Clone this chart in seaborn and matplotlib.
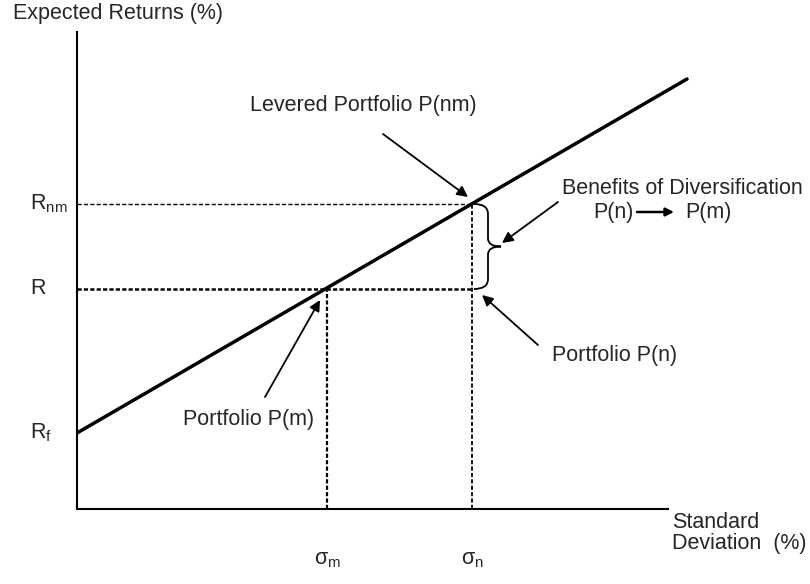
"""Capital market line diagram: levered portfolio vs diversified portfolio."""

import numpy as np
import matplotlib
matplotlib.use("Agg")
import matplotlib.pyplot as plt
from matplotlib.path import Path
from matplotlib.patches import PathPatch
import seaborn as sns

sns.set_theme(style="white")
plt.rcParams["font.family"] = ["Liberation Sans", "DejaVu Sans"]
plt.rcParams["mathtext.fontset"] = "custom"
plt.rcParams["mathtext.rm"] = "Liberation Sans"
plt.rcParams["mathtext.it"] = "Liberation Sans:italic"
plt.rcParams["lines.scale_dashes"] = False

# ---------------------------------------------------------------------------
# Data (arbitrary diagram units)
# ---------------------------------------------------------------------------
cml_x = [0, 610]          # standard deviation along the capital market line
cml_y = [76, 430]         # expected return along the capital market line

sigma_m = 250             # std dev of portfolio P(m)
sigma_n = 395             # std dev of portfolio P(n)
r_f = 76                  # risk free rate
r_m = 220                 # expected return R
r_nm = 305                # expected return of levered portfolio R_nm

y_ticks = [r_nm, r_m, r_f]
y_tick_labels = ["R$_{\\mathrm{nm}}$", "R", "R$_{\\mathrm{f}}$"]
x_ticks = [sigma_m, sigma_n]
x_tick_labels = ["σ$_{\\mathrm{m}}$", "σ$_{\\mathrm{n}}$"]

FS = 15.5
DASH = (0, (3.0, 1.6))

# ---------------------------------------------------------------------------
# Figure
# ---------------------------------------------------------------------------
fig = plt.figure(figsize=(8.1, 5.84), dpi=100)
ax = fig.add_axes([77 / 810, 75 / 584, 733 / 810, 509 / 584])
ax.set_xlim(0, 733)
ax.set_ylim(0, 509)
ax.set_xticks([])
ax.set_yticks([])
for side in ["top", "right"]:
    ax.spines[side].set_visible(False)
for side in ["left", "bottom"]:
    ax.spines[side].set_linewidth(1.5)
    ax.spines[side].set_color("black")
ax.spines["left"].set_bounds(0, 477)
ax.spines["bottom"].set_bounds(0, 591)

# capital market line
sns.lineplot(x=cml_x, y=cml_y, color="black", lw=2.5, ax=ax)

# guide lines
ax.plot([0, sigma_n], [r_nm, r_nm], color="black", lw=1.0, linestyle=DASH)
ax.plot([0, sigma_n], [r_m, r_m], color="black", lw=1.8, linestyle=DASH)
ax.plot([sigma_n, sigma_n], [0, r_nm], color="black", lw=1.3, linestyle=DASH)
ax.plot([sigma_m, sigma_m], [0, r_m], color="black", lw=1.6, linestyle=DASH)

# brace between R and R_nm at sigma_n
x0 = sigma_n + 2
xm = x0 + 14
xt = x0 + 27
mid = (r_nm + r_m) / 2
verts = [
    (x0, r_nm), (xm, r_nm), (xm, r_nm - 10),
    (xm, mid + 8),
    (xm, mid), (xt, mid),
    (xm, mid), (xm, mid - 8),
    (xm, r_m + 10),
    (xm, r_m), (x0, r_m),
]
codes = [Path.MOVETO, Path.CURVE3, Path.CURVE3,
         Path.LINETO,
         Path.CURVE3, Path.CURVE3,
         Path.CURVE3, Path.CURVE3,
         Path.LINETO,
         Path.CURVE3, Path.CURVE3]
ax.add_patch(PathPatch(Path(verts, codes), fill=False, lw=1.3, color="black"))

# tick-like labels
for y, lab in zip(y_ticks, y_tick_labels):
    ax.text(-47, y, lab, fontsize=FS, ha="left", va="center", clip_on=False)
for x, lab in zip(x_ticks, x_tick_labels):
    ax.text(x, -50, lab, fontsize=FS, ha="center", va="center", clip_on=False)

# axis titles
ax.text(-64, 496, "Expected Returns (%)", fontsize=FS, ha="left", va="center", clip_on=False)
ax.text(595, -13, "Standard", fontsize=FS, ha="left", va="center", clip_on=False)
ax.text(595, -35, "Deviation  (%)", fontsize=FS, ha="left", va="center", clip_on=False)

arrow = dict(arrowstyle="-|>", color="black", lw=1.3, mutation_scale=16,
             shrinkA=0, shrinkB=0)

ax.text(286, 404, "Levered Portfolio P(nm)", fontsize=FS, ha="center", va="center")
ax.annotate("", xy=(391, 312), xytext=(306, 375), arrowprops=arrow)

ax.text(605, 321, "Benefits of Diversification", fontsize=FS, ha="center", va="center",
        clip_on=False)
ax.text(516, 297, "P(n)", fontsize=FS, ha="left", va="center")
ax.text(608, 297, "P(m)", fontsize=FS, ha="left", va="center")
ax.annotate("", xy=(597, 297), xytext=(560, 297),
            arrowprops=dict(arrowstyle="-|>", color="black", lw=1.8, mutation_scale=12,
                            shrinkA=0, shrinkB=0))
ax.annotate("", xy=(425, 266), xytext=(481, 307), arrowprops=arrow)

ax.text(538, 154, "Portfolio P(n)", fontsize=FS, ha="center", va="center")
ax.annotate("", xy=(405, 214), xytext=(461, 164), arrowprops=arrow)

ax.text(172, 89, "Portfolio P(m)", fontsize=FS, ha="center", va="center")
ax.annotate("", xy=(243, 209), xytext=(188, 112), arrowprops=arrow)

fig.savefig("out.png", dpi=100)
